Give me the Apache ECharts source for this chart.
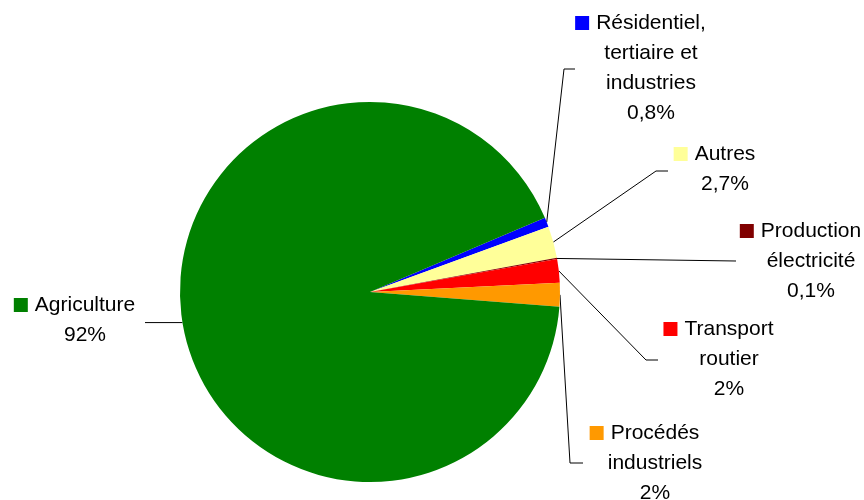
<!DOCTYPE html>
<html>
<head>
<meta charset="utf-8">
<script src="https://cdn.jsdelivr.net/npm/echarts@6/dist/echarts.min.js"></script>
<style>html,body{margin:0;padding:0;background:#fff}#c{width:864px;height:500px}</style>
</head>
<body>
<div id="c"></div>
<script>
const categories = ['Résidentiel,\ntertiaire et\nindustries', 'Autres', 'Production\nélectricité', 'Transport\nroutier', 'Procédés\nindustriels', 'Agriculture'];
const values = [0.8, 2.7, 0.1, 2, 2, 92];
const percentLabels = ['0,8%', '2,7%', '0,1%', '2%', '2%', '92%'];
const colors = ['#0000FF', '#FFFF99', '#800000', '#FF0000', '#FF9900', '#008000'];

// label placement (layout only)
const labelCenters = [[651, 68], [725, 169], [811, 261], [729, 359], [655, 463], [85, 320]];
const lineBends = [
  [[564, 69], [575, 69]],
  [[656, 171], [668, 171]],
  [[736, 261]],
  [[646, 360], [658, 360]],
  [[570, 463], [583, 463]],
  [[145, null]]
];

const rich = {
  t: { fontSize: 21, fontFamily: 'Liberation Sans, Arial, sans-serif', color: '#000', lineHeight: 30 },
  g: { width: 7, height: 14 },
  p: { width: 21, height: 14 }
};
colors.forEach((c, i) => { rich['m' + i] = { width: 14, height: 14, backgroundColor: c }; });

const chart = echarts.init(document.getElementById('c'), null, { renderer: 'canvas' });
chart.setOption({
  animation: false,
  color: colors,
  series: [{
    type: 'pie',
    center: [370, 292],
    radius: 190,
    startAngle: 23,
    clockwise: true,
    avoidLabelOverlap: false,
    data: categories.map((n, i) => ({ name: n, value: values[i] })),
    itemStyle: { borderWidth: 0 },
    emphasis: { disabled: true },
    label: {
      show: true,
      position: 'outside',
      rich: rich,
      lineHeight: 30,
      formatter: function (p) {
        const lines = p.name.split('\n');
        const out = lines.map((l, i) => i === 0 ? '{m' + p.dataIndex + '|}{g|}{t|' + l + '}{p|}' : '{t|' + l + '}');
        out.push('{t|' + percentLabels[p.dataIndex] + '}');
        return out.join('\n');
      }
    },
    labelLine: { show: true, lineStyle: { color: '#000', width: 1 }, length: 10, length2: 10 },
    labelLayout: function (params) {
      const i = params.dataIndex;
      const start = params.labelLinePoints ? params.labelLinePoints[0] : null;
      const res = { x: labelCenters[i][0], y: labelCenters[i][1], align: 'center', verticalAlign: 'middle' };
      if (start) {
        const pts = [[start[0], start[1]]];
        lineBends[i].forEach(p => pts.push([p[0], p[1] == null ? start[1] : p[1]]));
        res.labelLinePoints = pts;
      }
      return res;
    }
  }]
});
</script>
</body>
</html>
